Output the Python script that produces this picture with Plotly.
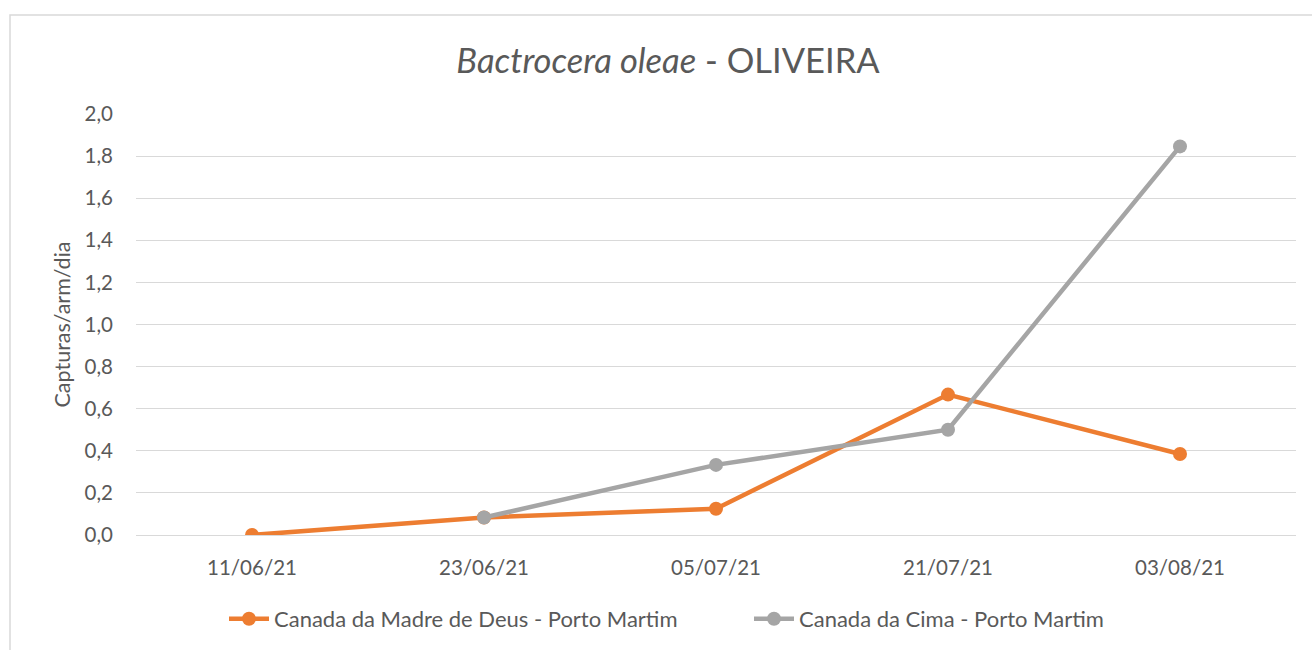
import plotly.graph_objects as go

dates = ["11/06/21", "23/06/21", "05/07/21", "21/07/21", "03/08/21"]
madre_deus = [0.0, 0.083, 0.125, 0.667, 0.385]
cima = [None, 0.083, 0.333, 0.5, 1.846]
y_ticks = [0.0, 0.2, 0.4, 0.6, 0.8, 1.0, 1.2, 1.4, 1.6, 1.8, 2.0]
y_tick_labels = ["0,0", "0,2", "0,4", "0,6", "0,8", "1,0", "1,2", "1,4", "1,6", "1,8", "2,0"]

FONT = "Lato"
TXT = "#595959"

fig = go.Figure()
fig.add_trace(go.Scatter(
    x=dates, y=madre_deus, mode="lines+markers",
    name="Canada da Madre de Deus - Porto Martim",
    line=dict(color="#ED7D31", width=4.5),
    marker=dict(color="#ED7D31", size=14),
))
fig.add_trace(go.Scatter(
    x=dates, y=cima, mode="lines+markers",
    name="Canada da Cima - Porto Martim",
    line=dict(color="#A5A5A5", width=4.5),
    marker=dict(color="#A5A5A5", size=14),
))

fig.update_layout(
    width=1312, height=650,
    margin=dict(l=136, r=16, t=114, b=115),
    paper_bgcolor="white", plot_bgcolor="white",
    font=dict(family=FONT, color=TXT),
    title=dict(
        text="<i>Bactrocera oleae</i> - OLIVEIRA",
        x=668 / 1312, xanchor="center", xref="container",
        y=1 - 61 / 650, yanchor="middle", yref="container",
        font=dict(family=FONT, size=34.5, color=TXT),
    ),
    xaxis=dict(
        type="category", range=[-0.5, 4.5],
        showgrid=False, showline=False, zeroline=False,
        ticks="", tickfont=dict(family=FONT, size=20.5, color=TXT),
        ticklabelstandoff=18,
    ),
    yaxis=dict(
        range=[0, 2.0], tickvals=y_ticks, ticktext=y_tick_labels,
        showgrid=True, gridcolor="#D9D9D9", gridwidth=1.3,
        zeroline=True, zerolinecolor="#D9D9D9", zerolinewidth=1.3,
        showline=False, ticks="",
        tickfont=dict(family=FONT, size=20.5, color=TXT),
        ticklabelstandoff=22,
        title=dict(text="Capturas/arm/dia", font=dict(family=FONT, size=21.5, color=TXT), standoff=8),
    ),
    legend=dict(
        orientation="h", x=(224 - 136) / 1160, xanchor="left",
        yref="container", y=1 - 619 / 650, yanchor="middle",
        font=dict(family=FONT, size=22, color=TXT),
        itemwidth=40, traceorder="normal",
        entrywidth=470,
    ),
    showlegend=True,
)

# chart border
fig.add_shape(
    type="rect", xref="paper", yref="paper",
    x0=(10 - 136) / 1160, x1=(1330 - 136) / 1160,
    y0=(535 - 670) / 421, y1=(535 - 15) / 421,
    line=dict(color="#D9D9D9", width=1.5), fillcolor="rgba(0,0,0,0)",
    layer="below",
)

fig.write_html("out.html", config={"displayModeBar": False})

with open("out.html", "r", encoding="utf-8") as f:
    html = f.read()
html = html.replace("<body>", '<body style="margin:0;overflow:hidden">', 1)
with open("out.html", "w", encoding="utf-8") as f:
    f.write(html)
